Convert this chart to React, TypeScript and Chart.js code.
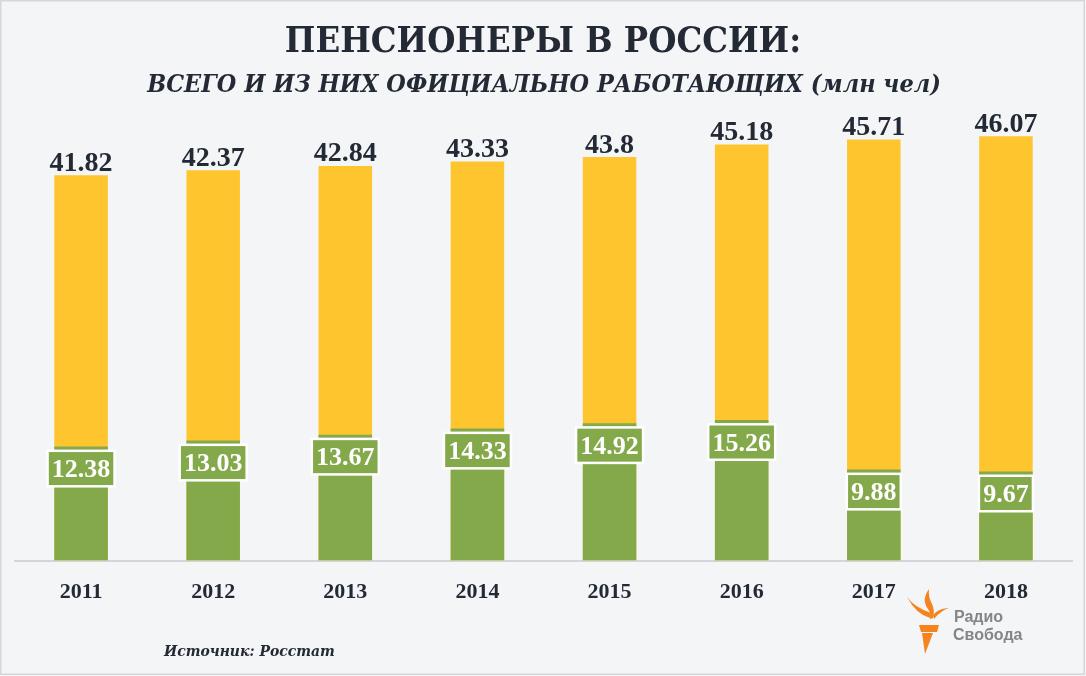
import React, { useEffect, useRef } from "react";
import { Chart, registerables } from "chart.js";

Chart.register(...registerables);

const years = ["2011", "2012", "2013", "2014", "2015", "2016", "2017", "2018"];
const totalPensioners = [41.82, 42.37, 42.84, 43.33, 43.8, 45.18, 45.71, 46.07];
const workingPensioners = [12.38, 13.03, 13.67, 14.33, 14.92, 15.26, 9.88, 9.67];
const totalLabels = ["41.82", "42.37", "42.84", "43.33", "43.8", "45.18", "45.71", "46.07"];
const workingLabels = ["12.38", "13.03", "13.67", "14.33", "14.92", "15.26", "9.88", "9.67"];

const titleText = "ПЕНСИОНЕРЫ В РОССИИ:";
const subtitleText = "ВСЕГО И ИЗ НИХ ОФИЦИАЛЬНО РАБОТАЮЩИХ (млн чел)";
const sourceText = "Источник: Росстат";
const logoLine1 = "Радио";
const logoLine2 = "Свобода";

const W = 1086;
const H = 676;
const BG = "#f4f5f7";
const YELLOW = "#fec52e";
const GREEN = "#84a94b";
const DARK = "#232a35";
const NUM_FONT = "'Liberation Serif', 'Times New Roman', serif";
const HEAD_FONT = "'DejaVu Serif Condensed', 'DejaVu Serif', serif";

const decorPlugin = {
  id: "decor",
  beforeDraw(chart: any) {
    const { ctx, width, height } = chart;
    ctx.save();
    ctx.fillStyle = BG;
    ctx.fillRect(0, 0, width, height);
    ctx.strokeStyle = "#d6d7d9";
    ctx.lineWidth = 1.5;
    ctx.strokeRect(0.75, 0.75, width - 2.5, height - 2.5);
    ctx.restore();
  },
  afterDatasetsDraw(chart: any) {
    const { ctx } = chart;
    ctx.save();
    const totalMeta = chart.getDatasetMeta(1);
    ctx.font = `bold 28px ${NUM_FONT}`;
    ctx.fillStyle = DARK;
    ctx.textAlign = "center";
    ctx.textBaseline = "alphabetic";
    totalMeta.data.forEach((bar: any, i: number) => {
      ctx.fillText(totalLabels[i], bar.x, bar.y - 4.5);
    });
    const workMeta = chart.getDatasetMeta(0);
    ctx.font = `bold 26px ${NUM_FONT}`;
    workMeta.data.forEach((bar: any, i: number) => {
      const txt = workingLabels[i];
      const tw = ctx.measureText(txt).width;
      const bw = tw + 11;
      const bh = 38;
      const bx = bar.x - bw / 2;
      const by = bar.y + 3;
      ctx.fillStyle = "#ffffff";
      ctx.fillRect(bx, by, bw, bh);
      ctx.fillStyle = GREEN;
      ctx.fillRect(bx + 2.5, by + 2.5, bw - 5, bh - 5);
      ctx.fillStyle = "#ffffff";
      ctx.fillText(txt, bar.x, by + 27.5);
    });
    ctx.restore();
  },
  afterDraw(chart: any) {
    const { ctx } = chart;
    ctx.save();
    ctx.fillStyle = DARK;
    ctx.textAlign = "center";
    ctx.textBaseline = "alphabetic";
    ctx.font = `bold 36px ${HEAD_FONT}`;
    ctx.fillText(titleText, 543, 51.5);
    ctx.font = `italic bold 25px ${HEAD_FONT}`;
    ctx.fillText(subtitleText, 544, 91.5);
    ctx.textAlign = "left";
    ctx.font = `italic bold 15.5px ${HEAD_FONT}`;
    ctx.fillText(sourceText, 164, 656);
    ctx.restore();
  },
};

export default function App() {
  const canvasRef = useRef<HTMLCanvasElement | null>(null);

  useEffect(() => {
    if (!canvasRef.current) return;
    const chart = new Chart(canvasRef.current, {
      type: "bar",
      data: {
        labels: years,
        datasets: [
          {
            label: "Официально работающие",
            data: workingPensioners,
            backgroundColor: GREEN,
            order: 0,
            grouped: false,
            barPercentage: 0.405,
            categoryPercentage: 1,
          } as any,
          {
            label: "Всего",
            data: totalPensioners,
            backgroundColor: YELLOW,
            order: 1,
            grouped: false,
            barPercentage: 0.405,
            categoryPercentage: 1,
          } as any,
        ],
      },
      options: {
        animation: false,
        responsive: false,
        devicePixelRatio: 1,
        layout: { padding: { top: 100, left: 15, right: 14, bottom: 51 } },
        plugins: {
          legend: { display: false },
          tooltip: { enabled: false },
          title: { display: false },
        },
        scales: {
          x: {
            grid: { display: false, drawTicks: false },
            border: { display: true, color: "#d4d5d8", width: 2 },
            ticks: {
              color: DARK,
              padding: 19,
              font: { family: NUM_FONT, size: 22, weight: "bold" },
            },
          },
          y: { display: false, min: 0, max: 50 },
        },
      },
      plugins: [decorPlugin],
    });
    return () => chart.destroy();
  }, []);

  return (
    <div style={{ position: "absolute", left: 0, top: 0, width: W, height: H, background: BG }}>
      <canvas ref={canvasRef} width={W} height={H} style={{ display: "block", width: W, height: H }} />
      <svg
        width={W}
        height={H}
        style={{ position: "absolute", left: 0, top: 0, pointerEvents: "none" }}
      >
        <g fill="#f5841f">
          <path d="M907 597 Q914 607 931 613 L930 618 Q916 614 907 597 Z" />
          <path d="M929 589 Q921 600 928 609 Q931 613 930 619 L933 618 Q935 610 932 604 Q928 597 929 589 Z" />
          <path d="M949 608 Q939 608 933 615 L934 619 Q940 611 949 608 Z" />
          <path d="M919 625 L939 625 L937 632 L921 632 Z" />
          <path d="M922 633 L933 633 L925 654 Z" />
        </g>
        <text x={954} y={622} fontFamily="'Liberation Sans', Arial, sans-serif" fontWeight="bold" fontSize={16} fill="#858585">
          {logoLine1}
        </text>
        <text x={953} y={640} fontFamily="'Liberation Sans', Arial, sans-serif" fontWeight="bold" fontSize={16} fill="#858585">
          {logoLine2}
        </text>
      </svg>
    </div>
  );
}
